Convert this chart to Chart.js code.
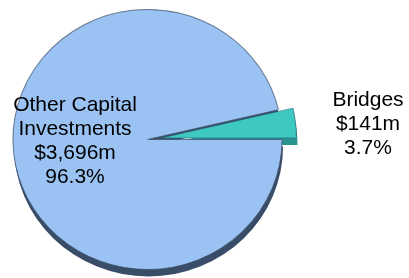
<!DOCTYPE html>
<html>
<head>
<meta charset="utf-8">
<script src="https://cdn.jsdelivr.net/npm/chart.js@4/dist/chart.umd.min.js"></script>
<style>
  html, body { margin: 0; padding: 0; background: #fff; }
  #wrap { width: 409px; height: 278px; }
</style>
</head>
<body>
<div id="wrap"><canvas id="chart"></canvas></div>
<script>
// Data
const categories = ['Other Capital Investments', 'Bridges'];
const labelLines = [['Other Capital', 'Investments'], ['Bridges']];
const amounts = [3696, 141];      // $m
const percents = [96.3, 3.7];

const fills = ['#9ac3f3', '#3ec8c2'];
const depthColors = ['#3a4d68', '#2a948f'];
const explode = [0, 14];

// label anchor points (centre of text block, first line)
const labelAnchors = [[75, 105], [368, 100]];

const stretchX = 1.035;   // pie is slightly wider than tall in the original
const depth = 7;

// draw the slices ourselves: slight horizontal stretch, exploded slice,
// and a fake 3D depth (each slice redrawn shifted down in a dark colour)
const pie3dPlugin = {
  id: 'pie3d',
  beforeDatasetDraw(chart, args) {
    const ctx = chart.ctx;
    const meta = args.meta;
    const first = meta.data[0];
    ctx.save();
    ctx.translate(first.x, first.y);
    ctx.scale(stretchX, 1);
    ctx.translate(-first.x, -first.y);

    const shifts = meta.data.map((arc, i) => {
      const p = arc.getProps(['startAngle', 'endAngle']);
      const mid = (p.startAngle + p.endAngle) / 2;
      return [Math.cos(mid) * explode[i], Math.sin(mid) * explode[i]];
    });

    meta.data.forEach((arc, i) => {
      const p = arc.getProps(['x', 'y', 'startAngle', 'endAngle', 'outerRadius']);
      const cx = p.x + shifts[i][0] + 1;
      const cy = p.y + shifts[i][1] + depth;
      ctx.fillStyle = depthColors[i];
      ctx.beginPath();
      ctx.moveTo(cx, cy);
      ctx.arc(cx, cy, p.outerRadius, p.startAngle, p.endAngle);
      ctx.closePath();
      ctx.fill();
    });

    meta.data.forEach((arc, i) => {
      ctx.save();
      ctx.translate(shifts[i][0], shifts[i][1]);
      arc.draw(ctx);
      ctx.restore();
    });
    ctx.restore();
    return false;
  }
};

const labelPlugin = {
  id: 'sliceLabels',
  afterDraw(chart) {
    const ctx = chart.ctx;
    ctx.save();
    ctx.fillStyle = '#000';
    ctx.font = '21px "Liberation Sans", Arial, sans-serif';
    ctx.textAlign = 'center';
    ctx.textBaseline = 'middle';
    categories.forEach((c, i) => {
      const lines = labelLines[i].concat([
        '$' + amounts[i].toLocaleString('en-US') + 'm',
        percents[i].toFixed(1) + '%'
      ]);
      const [x, y] = labelAnchors[i];
      lines.forEach((t, k) => ctx.fillText(t, x, y + k * 24));
    });
    ctx.restore();
  }
};

new Chart(document.getElementById('chart'), {
  type: 'pie',
  data: {
    labels: categories,
    datasets: [{
      data: amounts,
      backgroundColor: fills,
      borderColor: ['rgba(58,77,104,0.7)', 'rgba(42,110,120,0.7)'],
      borderWidth: 1
    }]
  },
  options: {
    responsive: true,
    maintainAspectRatio: false,
    animation: false,
    events: [],
    rotation: 90,
    radius: 130,
    layout: { padding: { left: 17.5, right: 131.5, top: 9.5, bottom: 8.5 } },
    plugins: {
      legend: { display: false },
      tooltip: { enabled: false }
    }
  },
  plugins: [pie3dPlugin, labelPlugin]
});
</script>
</body>
</html>
